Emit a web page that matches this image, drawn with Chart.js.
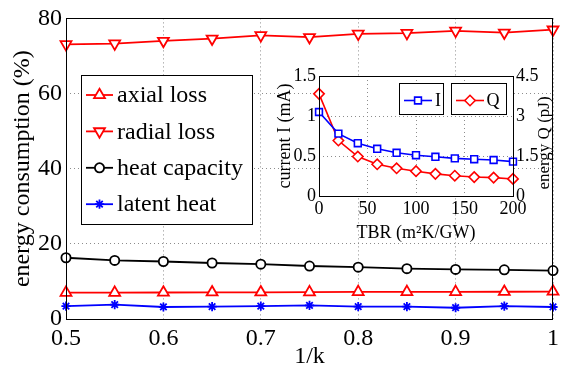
<!DOCTYPE html>
<html>
<head>
<meta charset="utf-8">
<script src="https://cdn.jsdelivr.net/npm/chart.js@4.4.1/dist/chart.umd.min.js"></script>
<style>
  html, body { margin: 0; padding: 0; background: #fff; }
  #wrap { position: relative; width: 564px; height: 369px; }
  #main { position: absolute; left: 0; top: 0; }
  #inset { position: absolute; left: 250px; top: 50px; }
</style>
</head>
<body>
<div id="wrap">
  <canvas id="main" width="564" height="369"></canvas>
  <canvas id="inset" width="314" height="200"></canvas>
</div>
<script>
// ---------- main chart data ----------
const kValues = [0.5, 0.55, 0.6, 0.65, 0.7, 0.75, 0.8, 0.85, 0.9, 0.95, 1.0];
const axialLoss = [7.0, 7.0, 7.05, 7.1, 7.1, 7.15, 7.2, 7.2, 7.2, 7.25, 7.3];
const radialLoss = [73.1, 73.3, 74.0, 74.6, 75.5, 75.0, 75.9, 76.1, 76.7, 76.2, 77.0];
const heatCapacity = [16.3, 15.6, 15.3, 14.9, 14.6, 14.1, 13.8, 13.4, 13.2, 13.1, 12.9];
const latentHeat = [3.4, 3.8, 3.2, 3.3, 3.4, 3.6, 3.3, 3.3, 3.0, 3.4, 3.2];
const mainSeriesNames = ['axial loss', 'radial loss', 'heat capacity', 'latent heat'];
const xTickValues = [0.5, 0.6, 0.7, 0.8, 0.9, 1.0];
const xTickLabels = ['0.5', '0.6', '0.7', '0.8', '0.9', '1'];
const yTickValues = [0, 20, 40, 60, 80];
const yTickLabels = ['0', '20', '40', '60', '80'];

// ---------- inset data ----------
const tbrValues = [0, 20, 40, 60, 80, 100, 120, 140, 160, 180, 200];
const currentI = [1.05, 0.78, 0.66, 0.59, 0.54, 0.51, 0.49, 0.47, 0.46, 0.45, 0.43];
const energyQ = [3.83, 2.08, 1.48, 1.19, 1.04, 0.93, 0.83, 0.76, 0.71, 0.69, 0.64];
const insetSeriesNames = ['I', 'Q'];
const insetXTicks = [0, 50, 100, 150, 200];
const insetXLabels = ['0', '50', '100', '150', '200'];
const insetYTicks = [0, 0.5, 1, 1.5];
const insetYLabels = ['0', '0.5', '1', '1.5'];
const insetY2Ticks = [0, 1.5, 3, 4.5];
const insetY2Labels = ['0', '1.5', '3', '4.5'];

const SERIF = "'Liberation Serif', 'Times New Roman', serif";
const GRID = '#8c8c8c';

function drawMarker(ctx, style, x, y, r, rotation) {
  ctx.save();
  ctx.translate(x, y);
  ctx.rotate((rotation || 0) * Math.PI / 180);
  ctx.beginPath();
  if (style === 'triangle') {
    for (let k = 0; k < 3; k++) {
      const a = k * 2 * Math.PI / 3;
      const px = Math.sin(a) * r, py = -Math.cos(a) * r;
      if (k === 0) ctx.moveTo(px, py); else ctx.lineTo(px, py);
    }
    ctx.closePath(); ctx.fill(); ctx.stroke();
  } else if (style === 'circle') {
    ctx.arc(0, 0, r, 0, Math.PI * 2); ctx.fill(); ctx.stroke();
  } else if (style === 'rect') {
    const s = Math.SQRT1_2 * r;
    ctx.rect(-s, -s, 2 * s, 2 * s); ctx.fill(); ctx.stroke();
  } else if (style === 'rectRot') {
    ctx.moveTo(-r, 0); ctx.lineTo(0, -r); ctx.lineTo(r, 0); ctx.lineTo(0, r);
    ctx.closePath(); ctx.fill(); ctx.stroke();
  } else if (style === 'star') {
    ctx.moveTo(0, -r); ctx.lineTo(0, r);
    ctx.moveTo(-r, 0); ctx.lineTo(r, 0);
    const d = Math.SQRT1_2 * r;
    ctx.moveTo(-d, -d); ctx.lineTo(d, d);
    ctx.moveTo(-d, d); ctx.lineTo(d, -d);
    ctx.stroke();
  }
  ctx.restore();
}

function pts(xs, ys) { return xs.map((x, i) => ({ x: x, y: ys[i] })); }

function series(label, xs, ys, color, style, radius, rotation, axis, lw) {
  const d = {
    label: label, data: pts(xs, ys),
    borderColor: color, backgroundColor: '#fff',
    pointBorderColor: color, pointBackgroundColor: '#fff',
    pointStyle: style, pointRadius: radius, pointRotation: rotation || 0,
    pointBorderWidth: lw, borderWidth: lw, tension: 0, clip: false
  };
  if (axis) d.yAxisID = axis;
  return d;
}

// ---------- main chart ----------
const mainLegendPlugin = {
  id: 'mainLegend',
  afterDraw(chart) {
    const ctx = chart.ctx;
    const a = chart.chartArea;
    ctx.save();
    ctx.strokeStyle = '#000'; ctx.lineWidth = 1;
    ctx.strokeRect(Math.round(a.left) + 0.5, Math.round(a.top) + 0.5,
                   Math.round(a.right - a.left) - 1, Math.round(a.bottom - a.top));
    const bx = 81, by = 75, bw = 171, bh = 149;
    ctx.fillStyle = '#fff';
    ctx.fillRect(bx, by, bw, bh);
    ctx.strokeRect(bx + 0.5, by + 0.5, bw, bh);
    ctx.font = '24px ' + SERIF;
    ctx.textBaseline = 'middle';
    ctx.textAlign = 'left';
    chart.data.datasets.forEach((ds, i) => {
      const y = 95 + i * 36.4;
      ctx.strokeStyle = ds.borderColor; ctx.lineWidth = ds.borderWidth;
      ctx.beginPath(); ctx.moveTo(86, y); ctx.lineTo(113, y); ctx.stroke();
      ctx.fillStyle = '#fff';
      drawMarker(ctx, ds.pointStyle, 99.5, y, ds.pointRadius, ds.pointRotation);
      ctx.fillStyle = '#000';
      ctx.fillText(ds.label, 117, y + 1);
    });
    ctx.restore();
  }
};

new Chart(document.getElementById('main'), {
  type: 'line',
  data: {
    datasets: [
      series(mainSeriesNames[0], kValues, axialLoss, '#ff0000', 'triangle', 6.3, 0, null, 1.8),
      series(mainSeriesNames[1], kValues, radialLoss, '#ff0000', 'triangle', 6.3, 180, null, 1.8),
      series(mainSeriesNames[2], kValues, heatCapacity, '#000000', 'circle', 4.6, 0, null, 1.8),
      series(mainSeriesNames[3], kValues, latentHeat, '#0000ff', 'star', 4.6, 0, null, 1.8)
    ]
  },
  options: {
    responsive: false, animation: false, devicePixelRatio: 1,
    layout: { padding: { top: 16, right: 3, left: 0, bottom: 0 } },
    plugins: { legend: { display: false }, tooltip: { enabled: false } },
    scales: {
      x: {
        type: 'linear', min: 0.5, max: 1,
        afterBuildTicks: s => { s.ticks = xTickValues.map(v => ({ value: v })); },
        afterFit: s => { s.height = 50; },
        ticks: { callback: (v, i) => xTickLabels[i], padding: 5, color: '#000',
                 font: { family: SERIF, size: 24 }, maxRotation: 0, autoSkip: false },
        grid: { color: GRID, drawTicks: false, lineWidth: 1, borderDash: [1, 3] },
        border: { display: false, dash: [1, 3] },
        title: { display: true, text: '1/k', color: '#000',
                 font: { family: SERIF, size: 24, lineHeight: 1 }, padding: { top: 0, bottom: 0 } }
      },
      y: {
        type: 'linear', min: 0, max: 80,
        afterBuildTicks: s => { s.ticks = yTickValues.map(v => ({ value: v })); },
        afterFit: s => { s.width = 66; },
        ticks: { callback: (v, i) => yTickLabels[i], padding: 4, color: '#000',
                 font: { family: SERIF, size: 24 } },
        grid: { color: GRID, drawTicks: false, lineWidth: 1, borderDash: [1, 3] },
        border: { display: false, dash: [1, 3] },
        title: { display: true, text: 'energy consumption (%)', color: '#000',
                 font: { family: SERIF, size: 24, lineHeight: 1 }, padding: { top: 11, bottom: 0 } }
      }
    }
  },
  plugins: [mainLegendPlugin]
});

// ---------- inset chart ----------
const insetPlugin = {
  id: 'insetDecor',
  beforeDraw(chart) {
    const a = chart.chartArea, ctx = chart.ctx;
    ctx.save(); ctx.fillStyle = '#fff';
    ctx.fillRect(a.left, a.top, a.right - a.left, a.bottom - a.top);
    ctx.restore();
  },
  afterDraw(chart) {
    const a = chart.chartArea, ctx = chart.ctx;
    ctx.save();
    ctx.strokeStyle = '#000'; ctx.lineWidth = 1;
    ctx.strokeRect(Math.round(a.left) + 0.5, Math.round(a.top) + 0.5,
                   Math.round(a.right - a.left), Math.round(a.bottom - a.top));
    ctx.fillStyle = '#000';
    ctx.font = '17px ' + SERIF;
    ctx.textAlign = 'center'; ctx.textBaseline = 'middle';
    ctx.translate(295, (a.top + a.bottom) / 2 + 7);
    ctx.rotate(-Math.PI / 2);
    ctx.fillText('energy Q (pJ)', 0, 0);
    ctx.restore();

    ctx.save();
    const boxes = [
      { x: 149, w: 44, lx0: 154, lx1: 182, mx: 168, tx: 185 },
      { x: 201, w: 55, lx0: 206, lx1: 234, mx: 220, tx: 236.5 }
    ];
    ctx.font = '18px ' + SERIF;
    ctx.textBaseline = 'middle'; ctx.textAlign = 'left';
    chart.data.datasets.forEach((ds, i) => {
      const b = boxes[i], y = 50.5;
      ctx.fillStyle = '#fff';
      ctx.fillRect(b.x, 33, b.w, 31);
      ctx.strokeStyle = '#000'; ctx.lineWidth = 1;
      ctx.strokeRect(b.x + 0.5, 33.5, b.w, 31);
      ctx.strokeStyle = ds.borderColor; ctx.lineWidth = ds.borderWidth;
      ctx.beginPath(); ctx.moveTo(b.lx0, y); ctx.lineTo(b.lx1, y); ctx.stroke();
      ctx.fillStyle = '#fff';
      drawMarker(ctx, ds.pointStyle, b.mx, y, ds.pointRadius, 0);
      ctx.fillStyle = '#000';
      ctx.fillText(ds.label, b.tx, y + 1);
    });
    ctx.restore();
  }
};

new Chart(document.getElementById('inset'), {
  type: 'line',
  data: {
    datasets: [
      series(insetSeriesNames[0], tbrValues, currentI, '#0000ff', 'rect', 4.8, 0, 'y', 1.6),
      series(insetSeriesNames[1], tbrValues, energyQ, '#ff0000', 'rectRot', 5.2, 0, 'y1', 1.6)
    ]
  },
  options: {
    responsive: false, animation: false, devicePixelRatio: 1,
    layout: { padding: { top: 26, right: 0, left: 0, bottom: 0 } },
    plugins: { legend: { display: false }, tooltip: { enabled: false } },
    scales: {
      x: {
        type: 'linear', min: 0, max: 200,
        afterBuildTicks: s => { s.ticks = insetXTicks.map(v => ({ value: v })); },
        afterFit: s => { s.height = 54; },
        ticks: { callback: (v, i) => insetXLabels[i], padding: 2, color: '#000',
                 font: { family: SERIF, size: 18 }, maxRotation: 0, autoSkip: false },
        grid: { color: GRID, drawTicks: false, lineWidth: 1, borderDash: [1, 3] },
        border: { display: false, dash: [1, 3] },
        title: { display: true, text: 'TBR (m²K/GW)', color: '#000',
                 font: { family: SERIF, size: 18 }, padding: { top: 0, bottom: 6 } }
      },
      y: {
        type: 'linear', position: 'left', min: 0, max: 1.5,
        afterBuildTicks: s => { s.ticks = insetYTicks.map(v => ({ value: v })); },
        afterFit: s => { s.width = 69; },
        ticks: { callback: (v, i) => insetYLabels[i], padding: 3, color: '#000',
                 font: { family: SERIF, size: 18 } },
        grid: { color: GRID, drawTicks: false, lineWidth: 1, borderDash: [1, 3] },
        border: { display: false, dash: [1, 3] },
        title: { display: true, text: 'current I (mA)', color: '#000',
                 font: { family: SERIF, size: 18 }, padding: { top: 24, bottom: 0 } }
      },
      y1: {
        type: 'linear', position: 'right', min: 0, max: 4.5,
        afterBuildTicks: s => { s.ticks = insetY2Ticks.map(v => ({ value: v })); },
        afterFit: s => { s.width = 51; },
        ticks: { callback: (v, i) => insetY2Labels[i], padding: 3, color: '#000',
                 font: { family: SERIF, size: 18 } },
        grid: { drawOnChartArea: false, drawTicks: false },
        border: { display: false }
      }
    }
  },
  plugins: [insetPlugin]
});
</script>
</body>
</html>
